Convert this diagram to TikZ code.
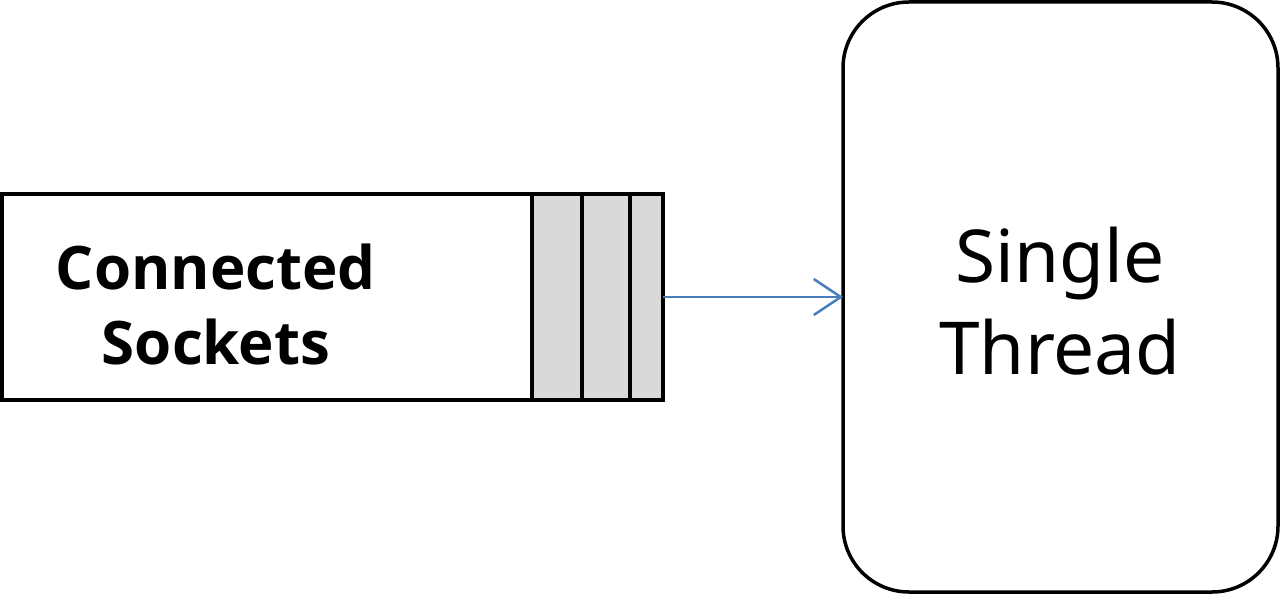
\documentclass[tikz,border=0pt]{standalone}
\usepackage{fontspec}
\setmainfont{Noto Sans}
\newfontfamily\lblbold{Open Sans}
\usetikzlibrary{arrows.meta}
\definecolor{cellgray}{HTML}{D9D9D9}
\definecolor{arrowblue}{HTML}{4A7EBB}
\begin{document}
\begin{tikzpicture}[x=1pt,y=-1pt,
  boxline/.style={draw=black,line width=3.5pt,inner sep=0pt,outer sep=0pt},
  cell/.style={boxline,fill=cellgray,minimum height=206pt,anchor=north west},
  link/.style={draw=arrowblue,line width=2.5pt,-{Straight Barb[length=27pt,width=36pt,line width=2.5pt]}}]
\useasboundingbox (0,0) rectangle (1280,594);
\node[boxline,minimum width=530pt,minimum height=206pt,anchor=north west] (sock) at (2,194) {};
\node[cell,minimum width=50pt] (c1) at (532,194) {};
\node[cell,minimum width=48pt] (c2) at (582,194) {};
\node[cell,minimum width=33pt] (c3) at (630,194) {};
\node[align=center,font=\lblbold\fontsize{60}{75}\selectfont\bfseries,inner sep=0pt] (lbl) at (216,304) {Connected\\Sockets};
\node[boxline,rounded corners=66pt,minimum width=435pt,minimum height=590pt] (thread) at (1060.5,297) {};
\node[align=center,font=\fontsize{73}{92}\selectfont,inner sep=0pt] (tlbl) at (1060,301) {Single\\Thread};
\draw[link] (c3.east) -- (thread.west);
\end{tikzpicture}
\end{document}
